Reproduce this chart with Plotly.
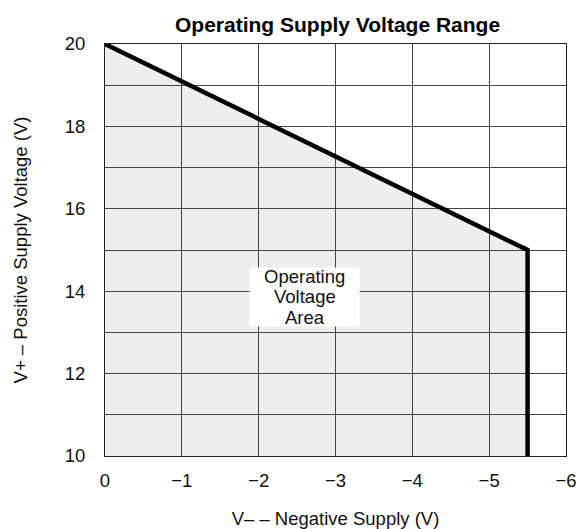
import plotly.graph_objects as go

neg_supply = [0, -5.5, -5.5]
pos_supply = [20, 15, 10]
x_ticks = [0, -1, -2, -3, -4, -5, -6]
x_labels = ["0", "\u22121", "\u22122", "\u22123", "\u22124", "\u22125", "\u22126"]
y_ticks = [10, 12, 14, 16, 18, 20]
y_grid = list(range(10, 21))
area_lines = ["Operating", "Voltage", "Area"]
area_pos = (-2.6, 13.86)

font = "Liberation Sans, Arial, sans-serif"

fig = go.Figure()

# light-gray operating area (drawn below the grid)
y_floor = min(pos_supply)
pts = [(neg_supply[0], y_floor)] + list(zip(neg_supply, pos_supply))
path = "M " + " L ".join(f"{x},{y}" for x, y in pts) + " Z"
fig.add_shape(type="path", path=path, xref="x", yref="y",
              fillcolor="#EEEEEE", line=dict(width=0), layer="below")

fig.add_trace(go.Scatter(
    x=neg_supply, y=pos_supply, mode="lines",
    line=dict(color="black", width=4.5),
    hoverinfo="skip", showlegend=False,
))

# white label box
fig.add_annotation(
    x=area_pos[0], y=area_pos[1], text=" ", showarrow=False,
    bgcolor="white", width=109, height=58, borderpad=0,
)
for i, t in enumerate(area_lines):
    fig.add_annotation(
        x=area_pos[0], y=area_pos[1], text=t, showarrow=False,
        yshift=(1 - i) * 20.5,
        font=dict(family=font, size=18.5, color="#111111"),
    )

fig.update_layout(
    width=578, height=529,
    margin=dict(l=105, r=12, t=44, b=73),
    paper_bgcolor="white", plot_bgcolor="white",
    title=dict(text="<b>Operating Supply Voltage Range</b>", x=0.584, xanchor="center",
               y=1 - 24.5 / 529, yanchor="middle",
               font=dict(family=font, size=21, color="black")),
    font=dict(family=font, size=18.5, color="#111111"),
    hovermode=False,
)

fig.update_xaxes(
    range=[0, -6], tickvals=x_ticks, ticktext=x_labels,
    showgrid=True, gridcolor="#444444", gridwidth=1,
    showline=True, linecolor="#222222", linewidth=1, mirror=True,
    zeroline=False, ticks="", ticklabelstandoff=8, automargin=False,
    title=dict(text="V\u2013 \u2013 Negative Supply (V)", standoff=22,
               font=dict(size=18.5)),
)
fig.update_yaxes(
    range=[10, 20], tickvals=y_grid,
    ticktext=[str(v) if v in y_ticks else "" for v in y_grid],
    showgrid=True, gridcolor="#444444", gridwidth=1,
    showline=True, linecolor="#222222", linewidth=1, mirror=True,
    zeroline=False, ticks="", ticklabelstandoff=15, automargin=False,
    title=dict(text="V+ \u2013 Positive Supply Voltage (V)", standoff=32,
               font=dict(size=18.5)),
)

fig.write_html(
    "out.html",
    config={"displayModeBar": False},
    post_script="document.body.style.margin='0';document.body.style.overflow='hidden';",
)
